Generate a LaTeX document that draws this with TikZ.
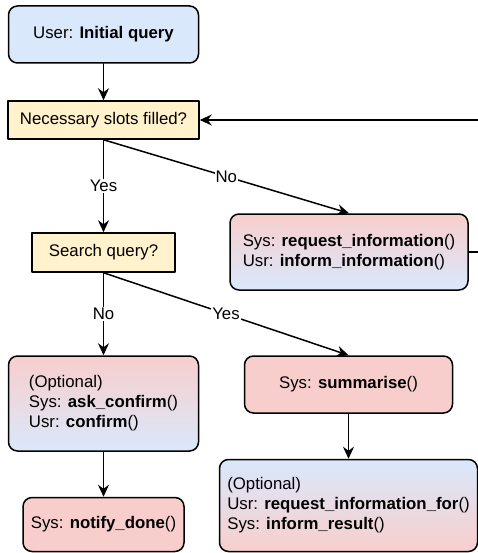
\documentclass[tikz,border=0pt]{standalone}
\usepackage{fontspec}
\setmainfont{Liberation Sans}
\usetikzlibrary{arrows.meta}
\definecolor{pinkfill}{HTML}{F8CECC}
\definecolor{bluefill}{HTML}{DAE8FC}
\definecolor{yellowfill}{HTML}{FFF2CC}

\begin{document}
\begin{tikzpicture}[line cap=round,line join=round,>={Stealth[length=12pt,width=11pt,inset=4pt]},x=1pt,y=-1pt,
  every node/.style={font=\fontsize{16.8}{20}\selectfont},
  box/.style={draw,line width=1.5pt,rounded corners=9pt,align=left,inner sep=0pt},
  cond/.style={draw,line width=1.5pt,fill=yellowfill,inner sep=0pt},
  lbl/.style={fill=white,inner sep=1pt},
  link/.style={->,line width=1.5pt}]
\useasboundingbox (0,0) rectangle (478,553);
%
\node[box,fill=bluefill,minimum width=190pt,minimum height=57pt] (query) at (103.5,34.5) {User: \textbf{Initial query}};
\node[cond,minimum width=191pt,minimum height=38pt] (slots) at (103.5,120) {Necessary slots filled?};
\node[cond,minimum width=143pt,minimum height=39pt] (search) at (103.5,252.5) {Search query?};
\node[box,top color=pinkfill,bottom color=bluefill,minimum width=238pt,minimum height=76pt] (reqinfo) at (349,252) {Sys: \textbf{request\_information}()\\Usr: \textbf{inform\_information}()};
%
\node[box,top color=pinkfill,bottom color=bluefill,minimum width=190pt,minimum height=95pt] (confirm) at (103.5,403.5) {(Optional)\\Sys: \textbf{ask\_confirm}()\\Usr: \textbf{confirm}()};
\node[box,fill=pinkfill,minimum width=161pt,minimum height=54pt] (notify) at (103.5,524.5) {Sys: \textbf{notify\_done}()};
\node[box,fill=pinkfill,minimum width=208pt,minimum height=57pt] (summ) at (348.5,384.5) {Sys: \textbf{summarise}()};
\node[box,top color=bluefill,bottom color=pinkfill,minimum width=258pt,minimum height=92pt] (result) at (348.5,505.5) {(Optional)\\Usr: \textbf{request\_information\_for}()\\Sys: \textbf{inform\_result}()};
%
\draw[link] (query) -- (slots);
\draw[link] (slots.south) -- node[lbl] {Yes} (search.north);
\draw[link] (slots.south) -- node[lbl] {No} (reqinfo.north);
\draw[link] (reqinfo.east) -- ++(25,0) |- (slots.east);
\draw[link] (search.south) -- node[lbl] {No} (confirm.north);
\draw[link] (search.south) -- node[lbl] {Yes} (summ.north);
\draw[link] (confirm) -- (notify);
\draw[link] (summ) -- (result);
\end{tikzpicture}
\end{document}
